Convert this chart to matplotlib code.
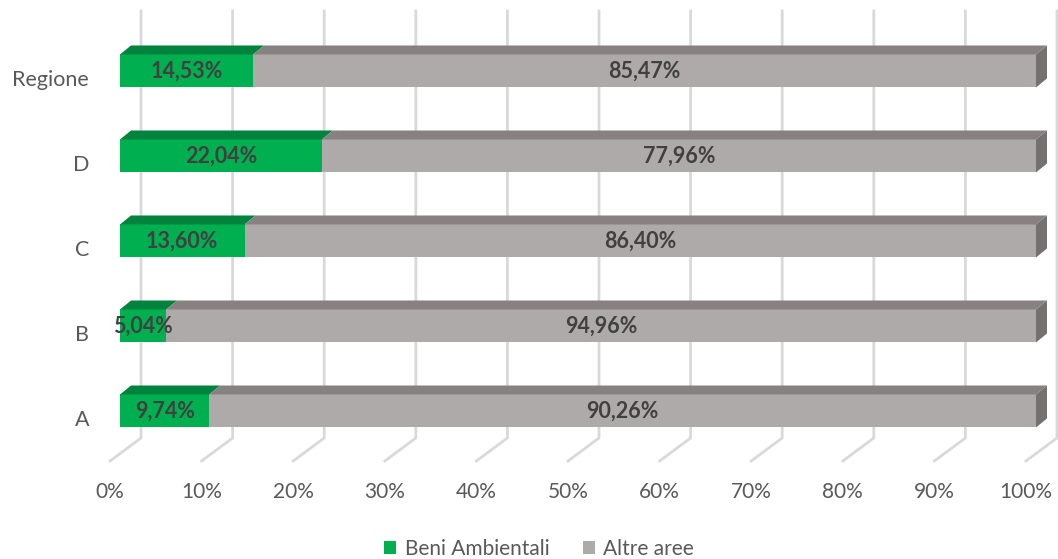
import matplotlib.pyplot as plt
from matplotlib.patches import Polygon, Patch

plt.rcParams['font.family'] = ['Lato', 'DejaVu Sans']

categories = ['A', 'B', 'C', 'D', 'Regione']
beni = [9.74, 5.04, 13.60, 22.04, 14.53]
altre = [90.26, 94.96, 86.40, 77.96, 85.47]
series_names = ['Beni Ambientali', 'Altre aree']
ticks = [0, 10, 20, 30, 40, 50, 60, 70, 80, 90, 100]

front_cols = ['#00B050', '#AEAAAA']
top_cols = ['#00843D', '#878281']
side_col = '#767171'

W, H = 1058, 559
fig = plt.figure(figsize=(W / 100, H / 100), dpi=100)
ax = fig.add_axes([120 / W, 46 / H, 916 / W, 513 / H])
ax.set_xlim(0, 100)
ax.set_ylim(-1.2, 4.835)
ax.axis('off')

px_x = 100 / 916      # data units per pixel in x
px_y = 6.035 / 513    # data units per pixel in y
dx, dy = 11 * px_x, 9 * px_y
bh = 33 * px_y

# back wall / floor gridlines
for t in ticks:
    xb = t + 21 * px_x
    xf = t - 10 * px_x
    ax.plot([xb, xb, xf], [400 * px_y, -27 * px_y, -50 * px_y],
            color='#D9D9D9', lw=2, zorder=0, clip_on=False)
    ax.text(xf, -81 * px_y, f'{t}%', ha='center', va='center',
            fontsize=15, color='#595959')

for i, cat in enumerate(categories):
    ax.text(-31 * px_x, i - 9 * px_y, cat, ha='right', va='center',
            fontsize=15.5, color='#595959')
    left = 0
    vals = [beni[i], altre[i]]
    for j, v in enumerate(vals):
        ax.barh(i, v, left=left, height=bh, color=front_cols[j], zorder=2)
        top = i + bh / 2
        ax.add_patch(Polygon([(left, top), (left + v, top), (left + v + dx, top + dy),
                              (left + dx, top + dy)], closed=True, clip_on=False,
                             facecolor=top_cols[j], edgecolor='none', zorder=2))
        ax.text(left + v / 2, i, f'{v:.2f}%'.replace('.', ','), ha='center', va='center',
                fontsize=15.5, fontweight='bold', color='#404040', zorder=4)
        left += v
    bot = i - bh / 2
    ax.add_patch(Polygon([(left, bot), (left + dx, bot + dy), (left + dx, i + bh / 2 + dy),
                          (left, i + bh / 2)], closed=True, clip_on=False,
                         facecolor=side_col, edgecolor='none', zorder=2))

handles = [Patch(facecolor=c, edgecolor='none') for c in front_cols]
fig.legend(handles, series_names, loc='center', bbox_to_anchor=(539 / W, 1 - 549 / H),
           ncol=2, frameon=False, fontsize=15, labelcolor='#595959',
           handlelength=0.6, handleheight=0.6, handletextpad=0.4, columnspacing=1.6)

fig.savefig('out.png', dpi=100)
